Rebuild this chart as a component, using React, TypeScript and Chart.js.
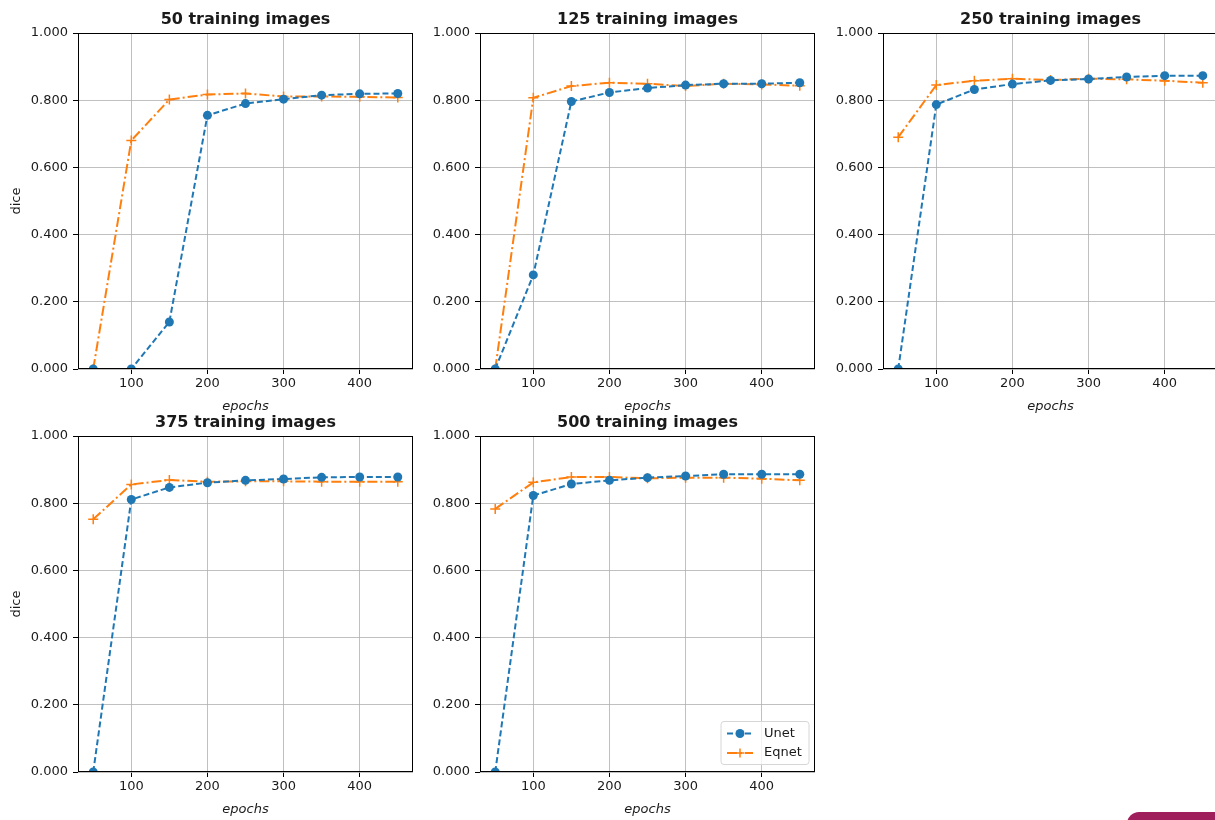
import React, { useEffect, useRef } from "react";
import { Chart, registerables } from "chart.js";

Chart.register(...registerables);

const epochs = [50, 100, 150, 200, 250, 300, 350, 400, 450];
const xTickValues = [100, 200, 300, 400];
const yTickStep = 0.2;

const panelTitles = [
  "50 training images",
  "125 training images",
  "250 training images",
  "375 training images",
  "500 training images",
];
const seriesNames = ["Unet", "Eqnet"];

const unet50 = [0, 0, 0.14, 0.755, 0.79, 0.803, 0.815, 0.819, 0.82];
const eqnet50 = [0, 0.68, 0.802, 0.817, 0.82, 0.811, 0.811, 0.81, 0.808];
const unet125 = [0, 0.28, 0.796, 0.823, 0.836, 0.845, 0.849, 0.849, 0.852];
const eqnet125 = [0, 0.807, 0.842, 0.852, 0.849, 0.842, 0.849, 0.847, 0.843];
const unet250 = [0, 0.787, 0.832, 0.848, 0.859, 0.863, 0.869, 0.873, 0.873];
const eqnet250 = [0.69, 0.845, 0.858, 0.864, 0.86, 0.864, 0.862, 0.858, 0.852];
const unet375 = [0, 0.811, 0.847, 0.861, 0.868, 0.872, 0.877, 0.878, 0.878];
const eqnet375 = [0.752, 0.856, 0.869, 0.864, 0.865, 0.865, 0.864, 0.864, 0.864];
const unet500 = [0, 0.823, 0.857, 0.868, 0.876, 0.881, 0.886, 0.886, 0.886];
const eqnet500 = [0.783, 0.862, 0.878, 0.878, 0.874, 0.876, 0.876, 0.873, 0.868];

const unetSeries = [unet50, unet125, unet250, unet375, unet500];
const eqnetSeries = [eqnet50, eqnet125, eqnet250, eqnet375, eqnet500];

const BLUE = "#1f77b4";
const ORANGE = "#ff7f0e";
const TEXT = "#1a1a1a";
const FONT = "'DejaVu Sans', sans-serif";
const UNET_DASH = [6, 3];
const EQNET_DASH = [10, 3, 2, 3];

// layout of each panel (plot area)
const colLefts = [78, 480, 883];
const rowTops = [33, 436];
const PLOT_W = 335;
const PLOT_H = 336;
const LEFT_SPACE = 78;
const TOP_SPACE = 33;
const BOTTOM_SPACE = 45;
const RIGHT_SPACE = 10;

const panels = [
  { col: 0, row: 0, yLabel: true, legend: false },
  { col: 1, row: 0, yLabel: false, legend: false },
  { col: 2, row: 0, yLabel: false, legend: false },
  { col: 0, row: 1, yLabel: true, legend: false },
  { col: 1, row: 1, yLabel: false, legend: true },
];

const framePlugin = {
  id: "frameTitle",
  afterDatasetsDraw(chart: any) {
    const { ctx, chartArea: a } = chart;
    ctx.save();
    ctx.strokeStyle = "#000";
    ctx.lineWidth = 1;
    ctx.setLineDash([]);
    ctx.strokeRect(
      Math.round(a.left) + 0.5,
      Math.round(a.top) + 0.5,
      Math.round(a.right - a.left) - 1,
      Math.round(a.bottom - a.top) - 1
    );
    ctx.restore();
  },
  afterDraw(chart: any) {
    const { ctx, chartArea: a } = chart;
    const opts = chart.options.plugins.frameTitle || {};
    ctx.save();
    ctx.fillStyle = TEXT;
    ctx.font = `bold 16px ${FONT}`;
    ctx.textAlign = "center";
    ctx.textBaseline = "middle";
    ctx.fillText(opts.title || "", (a.left + a.right) / 2, a.top - 13.5);

    if (opts.legend) {
      const w = 88;
      const h = 43;
      const bx = a.right - 6 - w;
      const by = a.bottom - 7.5 - h;
      ctx.beginPath();
      const r = 3;
      ctx.moveTo(bx + r, by);
      ctx.lineTo(bx + w - r, by);
      ctx.quadraticCurveTo(bx + w, by, bx + w, by + r);
      ctx.lineTo(bx + w, by + h - r);
      ctx.quadraticCurveTo(bx + w, by + h, bx + w - r, by + h);
      ctx.lineTo(bx + r, by + h);
      ctx.quadraticCurveTo(bx, by + h, bx, by + h - r);
      ctx.lineTo(bx, by + r);
      ctx.quadraticCurveTo(bx, by, bx + r, by);
      ctx.closePath();
      ctx.fillStyle = "rgba(255,255,255,0.8)";
      ctx.fill();
      ctx.strokeStyle = "#d6d6d6";
      ctx.lineWidth = 1;
      ctx.stroke();

      const rows = [
        { name: seriesNames[0], color: BLUE, dash: UNET_DASH, y: by + 12 },
        { name: seriesNames[1], color: ORANGE, dash: EQNET_DASH, y: by + 31.5 },
      ];
      rows.forEach((rw, i) => {
        ctx.strokeStyle = rw.color;
        ctx.lineWidth = 2;
        ctx.setLineDash(rw.dash);
        ctx.beginPath();
        ctx.moveTo(bx + 6, rw.y);
        ctx.lineTo(bx + 32, rw.y);
        ctx.stroke();
        ctx.setLineDash([]);
        const mx = bx + 19;
        if (i === 0) {
          ctx.fillStyle = rw.color;
          ctx.beginPath();
          ctx.arc(mx, rw.y, 4.5, 0, Math.PI * 2);
          ctx.fill();
        } else {
          ctx.lineWidth = 1.5;
          ctx.beginPath();
          ctx.moveTo(mx - 4.5, rw.y);
          ctx.lineTo(mx + 4.5, rw.y);
          ctx.moveTo(mx, rw.y - 4.5);
          ctx.lineTo(mx, rw.y + 4.5);
          ctx.stroke();
        }
        ctx.fillStyle = TEXT;
        ctx.font = `13px ${FONT}`;
        ctx.textAlign = "left";
        ctx.textBaseline = "middle";
        ctx.fillText(rw.name, bx + 43, rw.y);
      });
    }
    ctx.restore();
  },
};

function Panel({ index }: { index: number }) {
  const ref = useRef<HTMLCanvasElement | null>(null);
  const p = panels[index];
  const width = LEFT_SPACE + PLOT_W + RIGHT_SPACE;
  const height = TOP_SPACE + PLOT_H + BOTTOM_SPACE;
  const left = colLefts[p.col] - LEFT_SPACE;
  const top = rowTops[p.row] - TOP_SPACE;

  useEffect(() => {
    if (!ref.current) return;
    const toPoints = (vals: number[]) => epochs.map((e, i) => ({ x: e, y: vals[i] }));
    const chart = new Chart(ref.current, {
      type: "line",
      data: {
        datasets: [
          {
            label: seriesNames[0],
            data: toPoints(unetSeries[index]),
            borderColor: BLUE,
            backgroundColor: BLUE,
            borderWidth: 2,
            borderDash: UNET_DASH,
            pointStyle: "circle",
            pointRadius: 4.5,
            pointBorderWidth: 0,
            pointBackgroundColor: BLUE,
            tension: 0,
          },
          {
            label: seriesNames[1],
            data: toPoints(eqnetSeries[index]),
            borderColor: ORANGE,
            backgroundColor: ORANGE,
            borderWidth: 2,
            borderDash: EQNET_DASH,
            pointStyle: "cross",
            pointRadius: 5,
            pointBorderWidth: 1.5,
            pointBorderColor: ORANGE,
            tension: 0,
          },
        ],
      },
      options: {
        responsive: false,
        animation: false,
        devicePixelRatio: 1,
        layout: { padding: { top: TOP_SPACE, right: RIGHT_SPACE, left: 0, bottom: 0 } },
        plugins: {
          legend: { display: false },
          tooltip: { enabled: false },
          title: { display: false },
          frameTitle: { title: panelTitles[index], legend: p.legend },
        } as any,
        scales: {
          x: {
            type: "linear",
            min: 30,
            max: 470,
            border: { display: false },
            afterBuildTicks: (scale: any) => {
              scale.ticks = xTickValues.map((v) => ({ value: v }));
            },
            afterFit: (scale: any) => {
              scale.height = BOTTOM_SPACE;
            },
            grid: {
              color: "#b0b0b0",
              lineWidth: 0.8,
              tickColor: "#000",
              tickLength: 5,
              tickWidth: 1,
              drawTicks: true,
            },
            ticks: {
              color: TEXT,
              padding: 2,
              maxRotation: 0,
              font: { family: FONT, size: 13 },
              callback: (v: any) => String(v),
            },
            title: {
              display: true,
              text: "epochs",
              color: TEXT,
              padding: { top: 0, bottom: 0 },
              font: { family: FONT, size: 13, style: "italic" },
            },
          },
          y: {
            type: "linear",
            min: 0,
            max: 1,
            border: { display: false },
            afterFit: (scale: any) => {
              scale.width = LEFT_SPACE;
            },
            grid: {
              color: "#b0b0b0",
              lineWidth: 0.8,
              tickColor: "#000",
              tickLength: 5,
              tickWidth: 1,
              drawTicks: true,
            },
            ticks: {
              stepSize: yTickStep,
              color: TEXT,
              padding: 5,
              font: { family: FONT, size: 13 },
              callback: (v: any) => Number(v).toFixed(3),
            },
            title: {
              display: p.yLabel,
              text: "dice",
              color: TEXT,
              padding: { top: 9, bottom: 0 },
              font: { family: FONT, size: 13 },
            },
          },
        },
      },
      plugins: [framePlugin as any],
    });
    return () => chart.destroy();
  }, [index]);

  return (
    <canvas
      ref={ref}
      width={width}
      height={height}
      style={{ position: "absolute", left, top, width, height }}
    />
  );
}

export default function App() {
  return (
    <div
      style={{
        position: "absolute",
        left: 0,
        top: 0,
        width: 1215,
        height: 820,
        overflow: "hidden",
        background: "#fff",
      }}
    >
      {panels.map((_, i) => (
        <Panel key={i} index={i} />
      ))}
      <div
        style={{
          position: "absolute",
          left: 1127,
          top: 812,
          width: 100,
          height: 20,
          background: "#9e1f5b",
          borderTopLeftRadius: 12,
        }}
      />
    </div>
  );
}
